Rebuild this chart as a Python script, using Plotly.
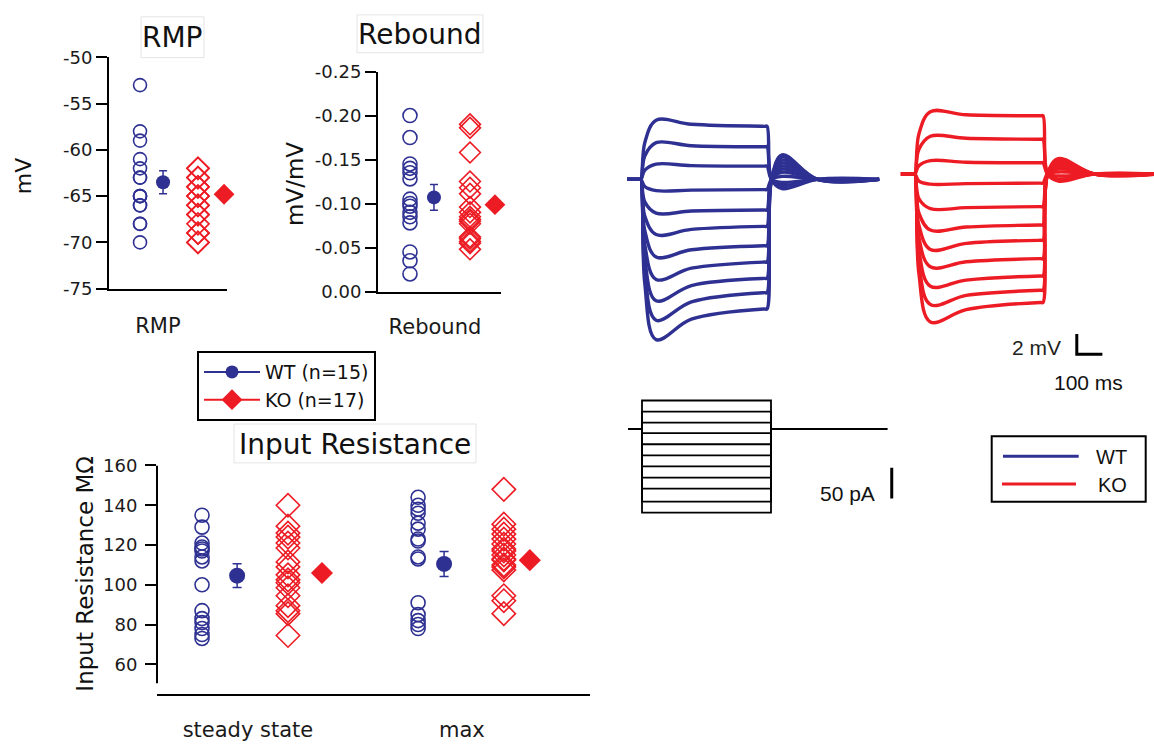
import plotly.graph_objects as go

W, H = 1154, 744
BLUE = "#2E3192"
RED = "#ED1C24"
FONT = "DejaVu Sans"
ARIAL = "Liberation Sans"

# ---------------- data ----------------
# Resting membrane potential (mV)
rmp_wt = [-53, -58, -59, -61, -62, -63, -65, -66, -68, -70, -63, -65, -66, -68, -65]
rmp_ko = [-62, -63, -64, -65, -66, -67, -68, -69, -70, -63, -64, -65, -66, -67, -62, -69, -70]
rmp_mean = [-63.5, -64.8]
rmp_sem = [1.25, 0.5]
rmp_ticks = [-75, -70, -65, -60, -55, -50]
rmp_ticktext = ["-75", "-70", "-65", "-60", "-55", "-50"]

# Rebound (mV/mV)
reb_wt = [-0.200, -0.175, -0.145, -0.140, -0.135, -0.128, -0.105, -0.100, -0.097,
          -0.090, -0.085, -0.078, -0.045, -0.035, -0.020]
reb_ko = [-0.190, -0.186, -0.158, -0.125, -0.118, -0.111, -0.096, -0.090, -0.085,
          -0.080, -0.077, -0.062, -0.060, -0.057, -0.055, -0.048, -0.082]
reb_mean = [-0.107, -0.0987]
reb_sem = [0.0145, 0.005]
reb_ticks = [0.0, -0.05, -0.10, -0.15, -0.20, -0.25]
reb_ticktext = ["0.00", "-0.05", "-0.10", "-0.15", "-0.20", "-0.25"]

# Input resistance (MOhm)
ir_cats = ["steady state", "max"]
ir_wt_ss = [135, 129, 121, 119, 117, 114, 112, 118, 100, 87, 83, 81, 78, 75, 73]
ir_ko_ss = [140, 129.5, 126, 124, 121, 118.5, 111.5, 109, 105, 102.5, 101, 98.5, 94.5,
            89.5, 87, 85.5, 74.5]
ir_wt_max = [144, 140, 138, 136, 131, 128, 123, 122, 114, 113, 91, 85, 82, 80, 78]
ir_ko_max = [148, 130.5, 128, 125.5, 123, 120.5, 118, 117, 115, 113, 112.5, 110, 107.5,
             109, 94.5, 92, 85.5]
ir_wt_mean = [104.6, 110.5]
ir_wt_sem = [6.0, 6.3]
ir_ko_mean = [105.9, 112.4]
ir_ko_sem = [2.5, 2.5]
ir_ticks = [60, 80, 100, 120, 140, 160]

# Example voltage responses (mV relative to rest), 11 sweeps, top to bottom
trace_time = [-55, -4, 0, 15, 60, 200, 490, 500, 518, 560, 700, 945]  # ms
wt_early = [3.6, 2.3, 0.9, -0.7, -2.2, -3.6, -5.0, -6.4, -7.8, -9.0, -10.2]
wt_peak = [5.8, 3.6, 1.5, -1.1, -3.3, -5.4, -7.6, -9.8, -11.9, -13.8, -15.7]
wt_mid = [5.4, 3.3, 1.35, -1.05, -3.1, -4.9, -6.9, -8.7, -10.4, -12.0, -13.7]
wt_ss = [5.2, 3.2, 1.3, -1.0, -3.0, -4.6, -6.5, -8.1, -9.7, -11.1, -12.7]
wt_reb = [-0.9, -0.6, -0.3, 0.3, 0.7, 1.0, 1.3, 1.6, 1.9, 2.2, 2.4]

ko_early = [3.9, 2.4, 0.8, -0.7, -2.4, -3.8, -5.0, -6.2, -7.4, -8.6, -9.7]
ko_peak = [6.1, 3.7, 1.3, -1.0, -3.4, -5.5, -7.4, -9.1, -11.0, -12.8, -14.5]
ko_mid = [5.8, 3.5, 1.15, -0.95, -3.3, -5.2, -6.8, -8.6, -10.4, -11.9, -13.3]
ko_ss = [5.7, 3.4, 1.1, -0.9, -3.2, -5.0, -6.5, -8.3, -10.0, -11.4, -12.6]
ko_reb = [-0.7, -0.5, -0.2, 0.2, 0.5, 0.7, 0.9, 1.1, 1.3, 1.4, 1.5]

# Current injection steps (pA)
step_time = [-54, 0, 500, 950]
step_amps = [46, 28, 10, -7, -25, -43, -61, -79, -97, -118, -136]


# ---------------- helpers ----------------
def dx(a, b):
    return [a / W, b / W]


def dy(top, bottom):
    return [1 - bottom / H, 1 - top / H]


def px(p):
    return p / W


def py(p):
    return 1 - p / H


fig = go.Figure()

# positions of the groups along each panel's x axis (axis units)
P_RMP = dict(wt=0.263, wtm=0.458, ko=0.754, kom=0.975)
P_REB = dict(wt=0.26, wtm=0.455, ko=0.748, kom=0.951)
P_IR = dict(wt=[0.104, 0.603], wtm=[0.185, 0.663], ko=[0.3025, 0.801], kom=[0.381, 0.861])

open_c = lambda s: dict(symbol="circle-open", size=s, color=BLUE, line=dict(color=BLUE, width=1.6))
open_d = lambda s: dict(symbol="diamond-open", size=s, color=RED, line=dict(color=RED, width=1.6))

# --- RMP panel
fig.add_trace(go.Scatter(x=[P_RMP["wt"]] * len(rmp_wt), y=rmp_wt, mode="markers",
                         marker=open_c(13), xaxis="x", yaxis="y", showlegend=False, cliponaxis=False))
fig.add_trace(go.Scatter(x=[P_RMP["ko"]] * len(rmp_ko), y=rmp_ko, mode="markers",
                         marker=open_d(17), xaxis="x", yaxis="y", showlegend=False, cliponaxis=False))
fig.add_trace(go.Scatter(x=[P_RMP["wtm"]], y=[rmp_mean[0]], mode="markers",
                         marker=dict(symbol="circle", size=14, color=BLUE),
                         error_y=dict(type="data", array=[rmp_sem[0]], color=BLUE, thickness=1.5, width=4),
                         xaxis="x", yaxis="y", showlegend=False, cliponaxis=False))
fig.add_trace(go.Scatter(x=[P_RMP["kom"]], y=[rmp_mean[1]], mode="markers",
                         marker=dict(symbol="diamond", size=16, color=RED),
                         error_y=dict(type="data", array=[rmp_sem[1]], color=RED, thickness=1.5, width=4),
                         xaxis="x", yaxis="y", showlegend=False, cliponaxis=False))

# --- Rebound panel
fig.add_trace(go.Scatter(x=[P_REB["wt"]] * len(reb_wt), y=reb_wt, mode="markers",
                         marker=open_c(14), xaxis="x2", yaxis="y2", showlegend=False, cliponaxis=False))
fig.add_trace(go.Scatter(x=[P_REB["ko"]] * len(reb_ko), y=reb_ko, mode="markers",
                         marker=open_d(16), xaxis="x2", yaxis="y2", showlegend=False, cliponaxis=False))
fig.add_trace(go.Scatter(x=[P_REB["wtm"]], y=[reb_mean[0]], mode="markers",
                         marker=dict(symbol="circle", size=14, color=BLUE),
                         error_y=dict(type="data", array=[reb_sem[0]], color=BLUE, thickness=1.5, width=4),
                         xaxis="x2", yaxis="y2", showlegend=False, cliponaxis=False))
fig.add_trace(go.Scatter(x=[P_REB["kom"]], y=[reb_mean[1]], mode="markers",
                         marker=dict(symbol="diamond", size=16, color=RED),
                         error_y=dict(type="data", array=[reb_sem[1]], color=RED, thickness=1.5, width=4),
                         xaxis="x2", yaxis="y2", showlegend=False, cliponaxis=False))

# --- Input resistance panel
for k, (wt_vals, ko_vals) in enumerate([(ir_wt_ss, ir_ko_ss), (ir_wt_max, ir_ko_max)]):
    fig.add_trace(go.Scatter(x=[P_IR["wt"][k]] * len(wt_vals), y=wt_vals, mode="markers",
                             marker=open_c(14), xaxis="x3", yaxis="y3", showlegend=False, cliponaxis=False))
    fig.add_trace(go.Scatter(x=[P_IR["ko"][k]] * len(ko_vals), y=ko_vals, mode="markers",
                             marker=open_d(18), xaxis="x3", yaxis="y3", showlegend=False, cliponaxis=False))
fig.add_trace(go.Scatter(x=P_IR["wtm"], y=ir_wt_mean, mode="markers",
                         marker=dict(symbol="circle", size=16, color=BLUE),
                         error_y=dict(type="data", array=ir_wt_sem, color=BLUE, thickness=1.5, width=4.5),
                         xaxis="x3", yaxis="y3", showlegend=False, cliponaxis=False))
fig.add_trace(go.Scatter(x=P_IR["kom"], y=ir_ko_mean, mode="markers",
                         marker=dict(symbol="diamond", size=17, color=RED),
                         error_y=dict(type="data", array=ir_ko_sem, color=RED, thickness=1.5, width=4.5),
                         xaxis="x3", yaxis="y3", showlegend=False, cliponaxis=False))

# legend entries
fig.add_trace(go.Scatter(x=[None], y=[None], mode="lines+markers", name="WT (n=15)",
                         line=dict(color=BLUE, width=2), marker=dict(symbol="circle", size=13, color=BLUE),
                         xaxis="x", yaxis="y", legend="legend"))
fig.add_trace(go.Scatter(x=[None], y=[None], mode="lines+markers", name="KO (n=17)",
                         line=dict(color=RED, width=2), marker=dict(symbol="diamond", size=17, color=RED),
                         xaxis="x", yaxis="y", legend="legend"))

# --- voltage traces
for i in range(len(wt_ss)):
    v = [0, 0, 0, wt_early[i], wt_peak[i], wt_mid[i], wt_ss[i], wt_ss[i], 0, wt_reb[i], 0, 0]
    fig.add_trace(go.Scatter(x=trace_time, y=v, mode="lines", line=dict(color=BLUE, width=3.4, shape="spline"),
                             xaxis="x4", yaxis="y4", showlegend=False, hoverinfo="skip"))
for i in range(len(ko_ss)):
    v = [0, 0, 0, ko_early[i], ko_peak[i], ko_mid[i], ko_ss[i], ko_ss[i], 0, ko_reb[i], 0, 0]
    fig.add_trace(go.Scatter(x=trace_time, y=v, mode="lines", line=dict(color=RED, width=3.4, shape="spline"),
                             xaxis="x5", yaxis="y5", showlegend=False, hoverinfo="skip"))

# --- current steps
for amp in step_amps:
    fig.add_trace(go.Scatter(x=step_time, y=[0, amp, 0, 0], mode="lines",
                             line=dict(color="black", width=1.8, shape="hv"),
                             xaxis="x6", yaxis="y6", showlegend=False, hoverinfo="skip"))

# ---------------- axes ----------------
tickfont = dict(family=FONT, size=18, color="#1a1a1a")
labfont = dict(family=FONT, size=21, color="#1a1a1a")
common_y = dict(showline=True, linecolor="black", linewidth=2, ticks="outside", ticklen=11,
                tickwidth=1.5, tickcolor="black", showgrid=False, zeroline=False, tickfont=tickfont)
common_x = dict(showline=True, linecolor="black", linewidth=2, ticks="outside",
                tickcolor="rgba(0,0,0,0)", showgrid=False, zeroline=False, tickfont=labfont)

# pixel mappings for the trace panels
# WT voltage: t=0 at 641 px, 0.252 px/ms; 0 mV at 173.3 px, 10.5 px/mV
# KO voltage: t=0 at 915 px, 0.256 px/ms; 0 mV at 167.7 px
# current: t=0 at 642 px, 0.258 px/ms; 0 pA at 430 px, 0.634 px/pA
hidden = dict(visible=False, showgrid=False, zeroline=False)

fig.update_layout(
    width=W, height=H, margin=dict(l=0, r=0, t=0, b=0),
    paper_bgcolor="white", plot_bgcolor="rgba(0,0,0,0)",
    xaxis=dict(domain=dx(109, 227), range=[0, 1], anchor="y", tickvals=[0.415], ticktext=["RMP"],
               ticklen=17, **common_x),
    yaxis=dict(domain=dy(47.7, 285.7), range=[-75, -50], anchor="x", tickvals=rmp_ticks,
               ticktext=rmp_ticktext, **common_y),
    xaxis2=dict(domain=dx(378, 501), range=[0, 1], anchor="y2", tickvals=[0.463], ticktext=["Rebound"],
                ticklen=15, **common_x),
    yaxis2=dict(domain=dy(62.3, 288.7), range=[0, -0.25], anchor="x2", tickvals=reb_ticks,
                ticktext=reb_ticktext, **common_y),
    xaxis3=dict(domain=dx(157, 590), range=[0, 1], anchor="y3", tickvals=[0.21, 0.704], ticktext=ir_cats,
                ticklen=16, **common_x),
    yaxis3=dict(domain=dy(467.7, 703), range=[45, 160], anchor="x3", tickvals=ir_ticks,
                ticklabelstandoff=4, **dict(common_y, showline=False)),
    xaxis4=dict(domain=dx(620, 890), range=[(620 - 641) / 0.252, (890 - 641) / 0.252], anchor="y4", **hidden),
    yaxis4=dict(domain=dy(95, 345), range=[(173.3 - 345) / 10.5, (173.3 - 95) / 10.5], anchor="x4", **hidden),
    xaxis5=dict(domain=dx(895, 1154), range=[(895 - 915) / 0.256, (1154 - 915) / 0.256], anchor="y5", **hidden),
    yaxis5=dict(domain=dy(95, 360), range=[(167.7 - 360) / 10.5, (167.7 - 95) / 10.5], anchor="x5", **hidden),
    xaxis6=dict(domain=dx(620, 900), range=[(620 - 642) / 0.258, (900 - 642) / 0.258], anchor="y6", **hidden),
    yaxis6=dict(domain=dy(390, 520), range=[(430 - 520) / 0.634, (430 - 390) / 0.634], anchor="x6", **hidden),
    legend=dict(x=px(197), y=py(350), xanchor="left", yanchor="top", bgcolor="white",
                bordercolor="black", borderwidth=2, font=dict(family=FONT, size=19, color="#111"),
                itemwidth=56, tracegroupgap=0),
    showlegend=True,
)

shapes = []
# y axis line for Input Resistance panel (stops above the x axis)
shapes.append(dict(type="line", xref="x3 domain", yref="y3", x0=0, x1=0, y0=50.5, y1=160,
                   line=dict(color="black", width=2)))
# faint title boxes
for (x0, y0, x1, y1) in [(141, 6, 204, 48), (357, 4, 483, 43), (234, 425, 476, 465)]:
    shapes.append(dict(type="rect", xref="paper", yref="paper", x0=px(x0), x1=px(x1), y0=py(y1), y1=py(y0),
                       line=dict(color="#e4e4e4", width=1), fillcolor="white", layer="below"))
# scale bars: 2 mV / 100 ms (KO voltage axes) and 50 pA (current axes)
shapes.append(dict(type="path", xref="x5", yref="y5",
                   path="M 632,-15.68 L 632,-17.68 L 732,-17.68", line=dict(color="black", width=3)))
shapes.append(dict(type="line", xref="x6", yref="y6", x0=968, x1=968, y0=-63, y1=-113,
                   line=dict(color="black", width=3)))
# WT / KO trace legend
shapes.append(dict(type="rect", xref="paper", yref="paper", x0=px(991.7), x1=px(1145.7), y0=py(505),
                   y1=py(437.7), line=dict(color="black", width=2), fillcolor="white"))
shapes.append(dict(type="line", xref="paper", yref="paper", x0=px(1003), x1=px(1078.7), y0=py(458.3),
                   y1=py(458.3), line=dict(color=BLUE, width=3)))
shapes.append(dict(type="line", xref="paper", yref="paper", x0=px(1002), x1=px(1076), y0=py(486.7),
                   y1=py(486.7), line=dict(color=RED, width=3)))
fig.update_layout(shapes=shapes)

ann = []


def text(x, y, s, size, family=FONT, angle=0, color="#111"):
    ann.append(dict(x=px(x), y=py(y), xref="paper", yref="paper", text=s, showarrow=False,
                    xanchor="center", yanchor="middle", textangle=angle,
                    font=dict(family=family, size=size, color=color)))


text(172.5, 27, "RMP", 28)
text(420, 24, "Rebound", 28)
text(355, 446, "Input Resistance", 28)
text(23, 170, "mV", 22, angle=-90)
text(295, 178, "mV/mV", 23, angle=-90)
text(85, 579, "Input Resistance MΩ", 23, angle=-90)
text(1036, 346, "2 mV", 21, family=ARIAL, color="#231f20")
text(1088, 382, "100 ms", 21, family=ARIAL)
text(847, 497, "50 pA", 21, family=ARIAL)
text(1111, 459, "WT", 20, family=ARIAL)
text(1112, 488, "KO", 20, family=ARIAL)
fig.update_layout(annotations=ann)

fig.write_html("out.html")
